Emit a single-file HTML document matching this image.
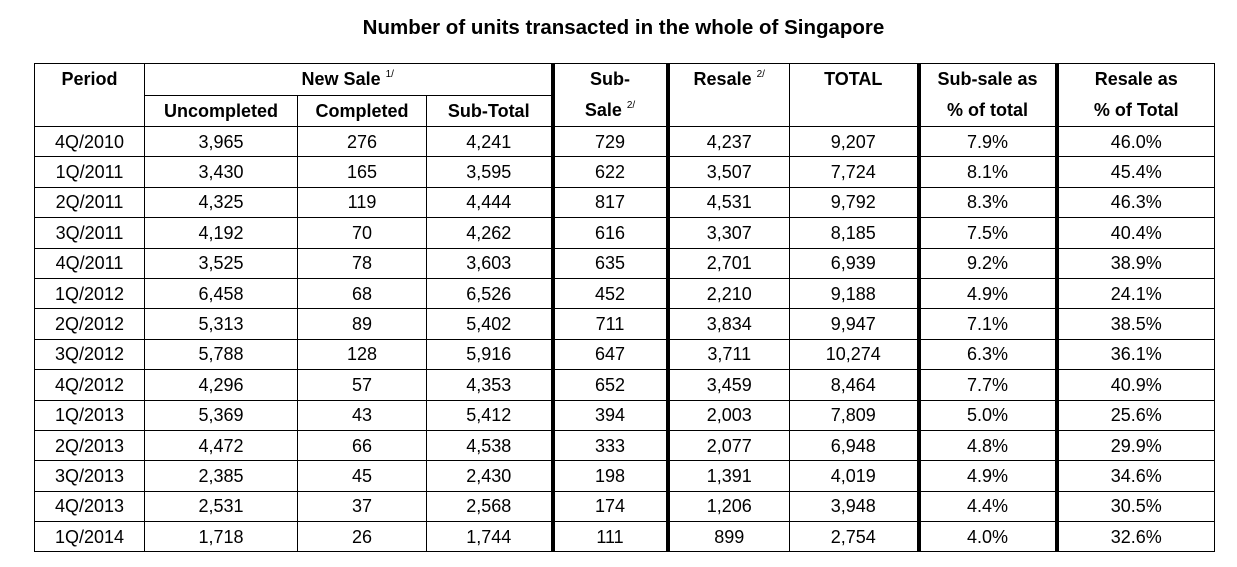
<!DOCTYPE html>
<html><head><meta charset="utf-8"><style>
body{margin:0;width:1237px;height:567px;background:#fff;overflow:hidden;font-family:"Liberation Sans",Arial,sans-serif;color:#000}
#title{position:absolute;left:0;width:1247px;top:16px;text-align:center;font-weight:bold;font-size:20.5px}
table{position:absolute;left:34px;top:63px;border-collapse:collapse;table-layout:fixed;font-size:18px}
td,th{border:1px solid #000;padding:0;text-align:center;overflow:hidden;white-space:nowrap}
th{font-weight:bold;height:30px;line-height:30px;vertical-align:middle}
td{height:29.4px;line-height:20px}
.tk{border-left:4px solid #000}
sup{font-size:10px;font-weight:normal;vertical-align:0;position:relative;top:-8px;line-height:0}
.two{line-height:31px;vertical-align:top}
</style></head><body>
<div id="title">Number of units transacted in the whole of Singapore</div>
<table id="t">
<colgroup><col style="width:110px"><col style="width:153px"><col style="width:129px"><col style="width:126px"><col style="width:115px"><col style="width:122px"><col style="width:129px"><col style="width:138px"><col style="width:158px"></colgroup>
<thead>
<tr>
<th rowspan="2" style="vertical-align:top">Period</th>
<th colspan="3">New Sale <sup>1/</sup></th>
<th rowspan="2" class="tk two">Sub-<br>Sale <sup>2/</sup></th>
<th rowspan="2" class="tk two">Resale <sup>2/</sup><br>&nbsp;</th>
<th rowspan="2" class="two">TOTAL<br>&nbsp;</th>
<th rowspan="2" class="tk two">Sub-sale as<br>% of total</th>
<th rowspan="2" class="tk two">Resale as<br>% of Total</th>
</tr>
<tr>
<th>Uncompleted</th>
<th>Completed</th>
<th>Sub-Total</th>
</tr>
</thead>
<tbody id="tb"></tbody>
</table>
<script>
const periods=["4Q/2010","1Q/2011","2Q/2011","3Q/2011","4Q/2011","1Q/2012","2Q/2012","3Q/2012","4Q/2012","1Q/2013","2Q/2013","3Q/2013","4Q/2013","1Q/2014"];
const uncompleted=["3,965","3,430","4,325","4,192","3,525","6,458","5,313","5,788","4,296","5,369","4,472","2,385","2,531","1,718"];
const completed=["276","165","119","70","78","68","89","128","57","43","66","45","37","26"];
const subTotal=["4,241","3,595","4,444","4,262","3,603","6,526","5,402","5,916","4,353","5,412","4,538","2,430","2,568","1,744"];
const subSale=["729","622","817","616","635","452","711","647","652","394","333","198","174","111"];
const resale=["4,237","3,507","4,531","3,307","2,701","2,210","3,834","3,711","3,459","2,003","2,077","1,391","1,206","899"];
const total=["9,207","7,724","9,792","8,185","6,939","9,188","9,947","10,274","8,464","7,809","6,948","4,019","3,948","2,754"];
const subSalePct=["7.9%","8.1%","8.3%","7.5%","9.2%","4.9%","7.1%","6.3%","7.7%","5.0%","4.8%","4.9%","4.4%","4.0%"];
const resalePct=["46.0%","45.4%","46.3%","40.4%","38.9%","24.1%","38.5%","36.1%","40.9%","25.6%","29.9%","34.6%","30.5%","32.6%"];
const tb=document.getElementById('tb');
const cols=[periods,uncompleted,completed,subTotal,subSale,resale,total,subSalePct,resalePct];
const names=["period","uncompleted","completed","sub-total","sub-sale","resale","total","sub-sale-pct","resale-pct"];
const thick=[4,5,7,8];
for(let i=0;i<periods.length;i++){
  const tr=document.createElement('tr');
  
  
  cols.forEach((c,j)=>{
    const td=document.createElement('td');
    td.textContent=c[i];
    if(thick.includes(j))td.className='tk';
    
    
    tr.appendChild(td);
  });
  tb.appendChild(tr);
}
</script>
</body></html>
